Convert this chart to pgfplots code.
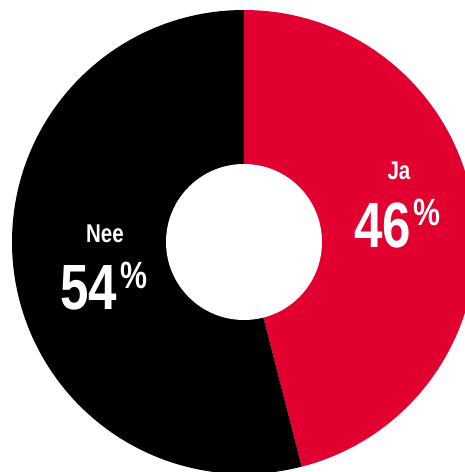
\documentclass[border=0pt]{standalone}
\usepackage{pgfplots}
\pgfplotsset{compat=1.18}
\usepackage{fontspec}
\setmainfont{Liberation Sans}[FakeStretch=0.8]
\definecolor{jared}{RGB}{226,0,48}

\begin{document}
\begin{tikzpicture}
\begin{axis}[
    x=1cm, y=1cm,
    xmin=-2.44, xmax=2.21,
    ymin=-2.30, ymax=2.42,
    axis lines=none,
    clip=true,
]
% Ja = 46, Nee = 54 (clockwise from the top)
\fill[jared] (axis cs:0,0) -- (axis cs:0,2.32)
    arc[start angle=90, end angle={90-46*3.6}, radius=2.32cm] -- cycle;
\fill[black] (axis cs:0,0) -- (axis cs:0,2.32)
    arc[start angle=90, end angle={90+54*3.6}, radius=2.32cm] -- cycle;
\fill[white] (axis cs:0,0) circle[radius=0.78cm];

\node[white, inner sep=0pt, font=\bfseries\fontsize{7.3}{8}\selectfont] at (axis cs:1.55,0.71) {Ja};
\node[white, inner sep=0pt, font=\bfseries\fontsize{18.2}{20}\selectfont] at (axis cs:1.385,0.165) {46};
\node[white, inner sep=0pt, font=\bfseries\fontsize{10.8}{12}\selectfont] at (axis cs:1.83,0.30) {\%};

\node[white, inner sep=0pt, font=\bfseries\fontsize{7.3}{8}\selectfont] at (axis cs:-1.39,0.08) {Nee};
\node[white, inner sep=0pt, font=\bfseries\fontsize{18.2}{20}\selectfont] at (axis cs:-1.55,-0.46) {54};
\node[white, inner sep=0pt, font=\bfseries\fontsize{10.8}{12}\selectfont] at (axis cs:-1.10,-0.33) {\%};
\end{axis}
\pgfresetboundingbox
\useasboundingbox (current axis.south west) rectangle (current axis.north east);
\end{tikzpicture}
\end{document}
